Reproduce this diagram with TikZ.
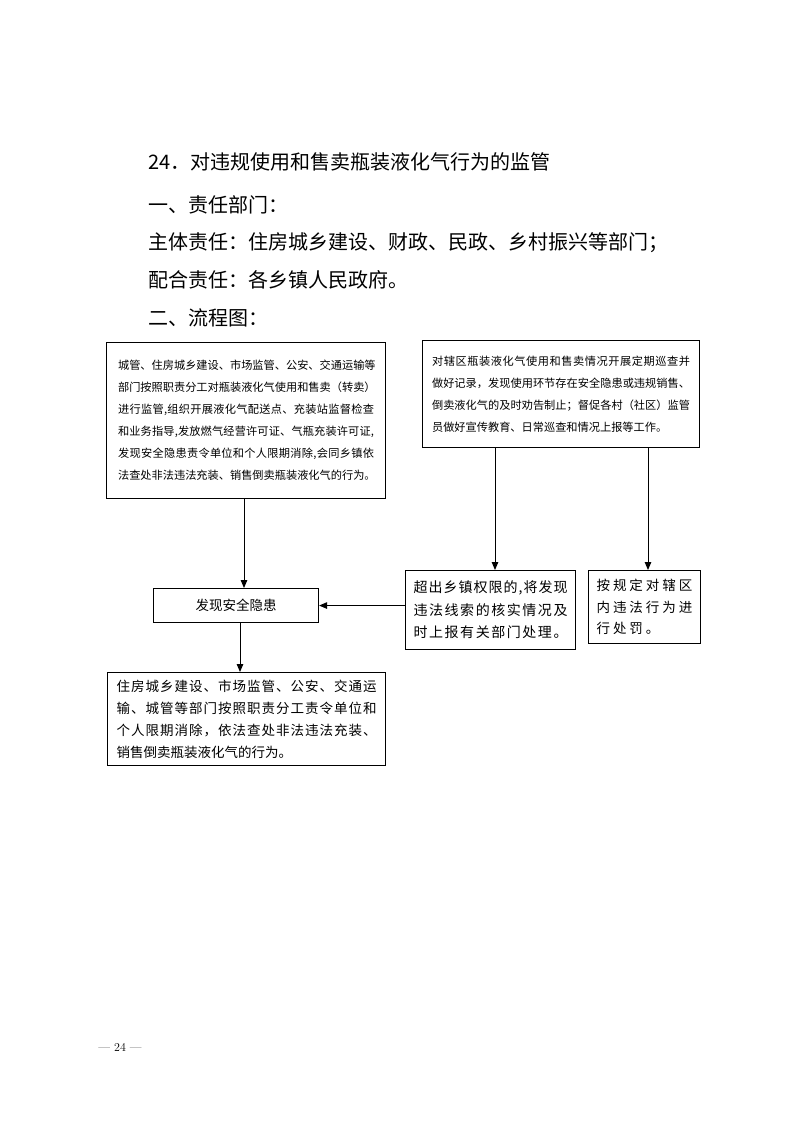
\documentclass[tikz,border=0pt]{standalone}
\usepackage{fontspec}
\newfontfamily\cjk{Noto Sans CJK SC}
\newfontfamily\cjkls[LetterSpace=22]{Noto Sans CJK SC}
\usetikzlibrary{arrows.meta}
\def\jline#1{\makebox[\linewidth][s]{\jA#1\relax}}
\def\jA#1{#1\jB}
\def\jB#1{\ifx#1\relax\else\hfil#1\expandafter\jB\fi}
\tikzset{
  bx/.style={draw, line width=1.1pt, anchor=north west, inner sep=0pt, align=left},
  arr/.style={line width=1pt, -{Triangle[length=8pt,width=6.5pt]}},
  head/.style={anchor=west, inner sep=0pt, font={\cjk\fontsize{20}{24}\selectfont}},
}
\begin{document}
\begin{tikzpicture}[x=1pt,y=-1pt]
\useasboundingbox (0,0) rectangle (793,1122);
\fill[white] (0,0) rectangle (793,1122);
% heading text
\node[head] (t0) at (148,162) {24．对违规使用和售卖瓶装液化气行为的监管};
\node[head] (t1) at (148,205) {一、责任部门：};
\node[head] (t2) at (148,243) {主体责任：住房城乡建设、财政、民政、乡村振兴等部门；};
\node[head] (t3) at (148,280) {配合责任：各乡镇人民政府。};
\node[head] (t4) at (148,318) {二、流程图：};
% boxes
\node[bx, minimum width=279pt, minimum height=156pt, text width=256pt,
  font={\cjk\fontsize{11.2}{22}\selectfont}] (A) at (106,342) {%
\jline{城管、住房城乡建设、市场监管、公安、交通运输等}\\
\jline{部门按照职责分工对瓶装液化气使用和售卖（转卖）}\\
\jline{进行监管,组织开展液化气配送点、充装站监督检查}\\
\jline{和业务指导,发放燃气经营许可证、气瓶充装许可证,}\\
\jline{发现安全隐患责令单位和个人限期消除,会同乡镇依}\\
\jline{法查处非法违法充装、销售倒卖瓶装液化气的行为。}};
\node[bx, minimum width=277pt, minimum height=107pt, text width=258pt,
  font={\cjk\fontsize{11.2}{22}\selectfont}] (B) at (422,340) {%
\jline{对辖区瓶装液化气使用和售卖情况开展定期巡查并}\\
\jline{做好记录，发现使用环节存在安全隐患或违规销售、}\\
\jline{倒卖液化气的及时劝告制止；督促各村（社区）监管}\\
员做好宣传教育、日常巡查和情况上报等工作。};
\node[bx, minimum width=165pt, minimum height=34pt, align=center,
  font={\cjk\fontsize{13.5}{16}\selectfont}] (C) at (153,588) {发现安全隐患};
\node[bx, minimum width=170pt, minimum height=79pt, text width=154pt,
  font={\cjk\fontsize{14}{22.5}\selectfont}] (D) at (405,570) {%
\jline{超出乡镇权限的,将发现}\\
\jline{违法线索的核实情况及}\\
\jline{时上报有关部门处理。}};
\node[bx, minimum width=112pt, minimum height=73pt, text width=96pt,
  font={\cjkls\fontsize{13.5}{21.5}\selectfont}] (E) at (588,570) {%
按规定对辖区\\内违法行为进\\行处罚。};
\node[bx, minimum width=278pt, minimum height=93pt, text width=260pt,
  font={\cjk\fontsize{13.5}{22}\selectfont}] (F) at (107,672) {%
\jline{住房城乡建设、市场监管、公安、交通运}\\
\jline{输、城管等部门按照职责分工责令单位和}\\
\jline{个人限期消除，依法查处非法违法充装、}\\
销售倒卖瓶装液化气的行为。};
% connectors
\draw[arr] (A.south -| 244,0) -- (C.north -| 244,0);
\draw[arr] (B.south -| 495,0) -- (D.north -| 495,0);
\draw[arr] (B.south -| 648,0) -- (E.north -| 648,0);
\draw[arr] (D.west |- C.east) -- (C.east);
\draw[arr] (C.south -| 240,0) -- (F.north -| 240,0);
% page number
\node[inner sep=0pt, font=\fontsize{12}{14}\selectfont] (pg) at (120,1047) {— 24 —};
\end{tikzpicture}
\end{document}
